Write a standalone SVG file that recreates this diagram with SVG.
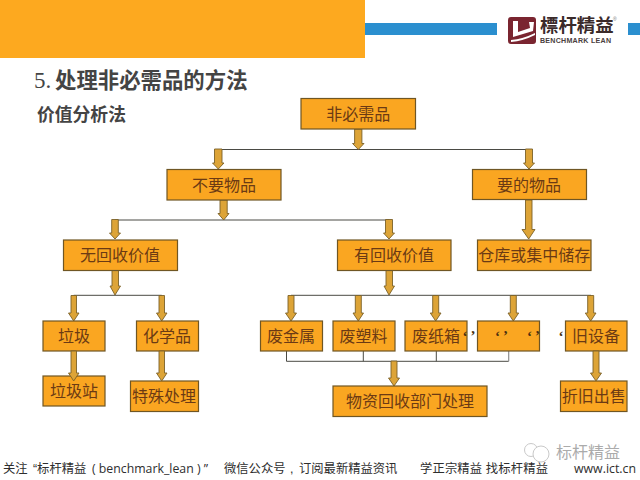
<svg xmlns="http://www.w3.org/2000/svg" width="640" height="480" viewBox="0 0 640 480">
<style>
text{font-family:"Liberation Sans","Noto Sans CJK SC",sans-serif}
.box{fill:#FAA621;stroke:#6F5624;stroke-width:1.2}
.lbl{font-size:16px;fill:#6B3A14;text-anchor:middle}
.q{font-family:"Liberation Serif",serif;font-size:15px;font-weight:700;fill:#4a3010;letter-spacing:3px}
.line{fill:none;stroke:#4a4a44;stroke-width:1}
.arrow{fill:#DDA437;stroke:#7A6128;stroke-width:.9}
.foot{font-size:12.3px;fill:#2e2e2e}
.latin{font-family:"Open Sans",sans-serif}
</style>
<rect id="banner" width="365" height="58" fill="#FDA91F"/>
<g id="bars" fill="#2B8FCF">
<rect x="365" y="23" width="132" height="12"/>
<rect x="628" y="23" width="12" height="12"/>
</g>
<g id="logo">
<rect x="508" y="17" width="28" height="27" rx="3" fill="#7A2530"/>
<path d="M513 21h5v11l12-4-1-6h5l-1 9-20 6z" fill="#fff"/>
<path d="M511 40q12-1 24-7v2q-12 6-24 7z" fill="#fff"/>
<text x="540" y="32" font-size="18.4" font-weight="700" fill="#3a2a2a" style="font-family:'Noto Sans CJK TC',sans-serif">標杆精益</text>
<text x="540" y="42.5" font-size="7.1" font-weight="700" fill="#4a4040" textLength="71">BENCHMARK LEAN</text>
<text x="613" y="21" font-size="5" fill="#777">®</text>
</g>
<text id="title" y="88" font-size="21.4" font-weight="700" fill="#444"><tspan x="34" style="font-family:'Liberation Serif',serif" font-size="23" font-weight="400">5.</tspan><tspan x="55">处理非必需品的方法</tspan></text>
<text id="subtitle" x="37" y="121" font-size="17.8" font-weight="700" fill="#444">价值分析法</text>

<g id="connectors">
<path class="line" d="M218 149.5H529M115 220H389M73.7 295.3H161.7M291 295.3H591M286.5 351V361.3H508.7M363.3 351V361.3M436.3 351V361.3"/>
<path d="M508.7 351V361.3" fill="none" stroke="#8c8c8c" stroke-width="1.2"/>
<g class="arrow">
<path d="M354.6 129V143.5H352.5L358.3 149.5 364 143.5H361.9V129Z"/>
<path d="M214.5 149V163H212.5L218.3 169 224 163H222V149Z"/>
<path d="M525.5 149V163H523.5L529 169 534.5 163H532.5V149Z"/>
<path d="M220 200V213.5H218L223.7 220 229 213.5H227.2V200Z"/>
<path d="M111.7 219.5V233H109.5L115 239 120.5 233H118.3V219.5Z"/>
<path d="M385.5 219.5V233H383.5L389 239 394.5 233H392.5V219.5Z"/>
<path d="M525.5 200V229.5H522L528.7 239 535 229.5H532V200Z"/>
<path d="M112 270.5V286H110L115 295 120.5 286H118.5V270.5Z"/>
<path d="M386 270.5V286H384L389 295 394.5 286H392.5V270.5Z"/>
<path d="M71 295.5V313H68.5L73.7 321 79 313H76.5V295.5Z"/>
<path d="M159 295.5V313H156.5L161.7 321 167 313H164.5V295.5Z"/>
<path d="M288 295.5V313H285.5L291 321 296.5 313H294V295.5Z"/>
<path d="M355.3 295.5V313H353L358.3 321 363.5 313H361.3V295.5Z"/>
<path d="M432.7 295.5V313H430.3L435.7 321 441 313H438.7V295.5Z"/>
<path d="M510.3 295.5V313H508L513.3 321 518.7 313H516.3V295.5Z"/>
<path d="M587.7 295.5V313H585.3L590.7 321 596 313H593.7V295.5Z"/>
<path d="M391 361V378H388.5L394 386 399.5 378H397V361Z"/>
</g>
</g>

<g id="n1"><rect class="box" x="301" y="98.5" width="114.5" height="30.5"/><text class="lbl" x="358.3" y="120">非必需品</text></g>
<g id="n2"><rect class="box" x="167" y="169.5" width="114" height="30.5"/><text class="lbl" x="224" y="191">不要物品</text></g>
<g id="n3"><rect class="box" x="472.5" y="169.5" width="114" height="30"/><text class="lbl" x="529" y="191">要的物品</text></g>
<g id="n4"><rect class="box" x="63.5" y="240" width="114" height="30.5"/><text class="lbl" x="120" y="261">无回收价值</text></g>
<g id="n5"><rect class="box" x="337.5" y="240" width="113.5" height="30.5"/><text class="lbl" x="394" y="261">有回收价值</text></g>
<g id="n6"><rect class="box" x="477.5" y="240" width="113.5" height="30.5"/><text class="lbl" x="534.3" y="261">仓库或集中储存</text></g>
<g id="n7"><rect class="box" x="43" y="321" width="62" height="30"/><text class="lbl" x="74" y="342">垃圾</text></g>
<g id="n8"><rect class="box" x="136.5" y="321" width="62" height="30"/><text class="lbl" x="167" y="342">化学品</text></g>
<g id="n9"><rect class="box" x="260.5" y="321" width="62" height="30"/><text class="lbl" x="291" y="342">废金属</text></g>
<g id="n10"><rect class="box" x="333" y="321" width="62" height="30"/><text class="lbl" x="363.5" y="342">废塑料</text></g>
<g id="n11"><rect class="box" x="405" y="321" width="62" height="30"/><text class="lbl" x="436" y="342">废纸箱</text></g>
<g id="n12"><rect class="box" x="477.5" y="321" width="62" height="30"/></g>
<g id="n13"><rect class="box" x="565.5" y="321" width="61.5" height="30"/><text class="lbl" x="596" y="342">旧设备</text></g>
<text class="q" x="462.5" y="341">‘’</text>
<text class="q" x="495" y="341">‘’</text>
<text class="q" x="527" y="341">‘’</text>
<text class="q" x="558.5" y="341">‘</text>
<g id="n14"><rect class="box" x="43" y="376" width="62" height="30"/><text class="lbl" x="74" y="397">垃圾站</text></g>
<g id="n15"><rect class="box" x="130.5" y="381" width="68" height="30.5"/><text class="lbl" x="164" y="402">特殊处理</text></g>
<g id="n16"><rect class="box" x="333" y="386" width="154" height="30.5"/><text class="lbl" x="410" y="407">物资回收部门处理</text></g>
<g id="n17"><rect class="box" x="560.5" y="381" width="66.5" height="30.5"/><text class="lbl" x="593.7" y="402">折旧出售</text></g>
<g class="arrow" id="connectors-lower">
<path d="M71 351V373H68.5L73.7 381 79 373H76.5V351Z"/>
<path d="M159 351V373H156.5L161.7 381 167 373H164.5V351Z"/>
<path d="M593 351V373H590.5L596 381 601.5 373H599V351Z"/>
</g>

<g id="watermark">
<g fill="#fff" stroke="#c9c9c9" stroke-width="1">
<circle cx="531" cy="450" r="6.5"/>
<circle cx="541" cy="454" r="8"/>
</g>
<text x="556" y="457.5" font-size="16" fill="#ababab">标杆精益</text>
</g>
<g id="footer">
<text class="foot" y="473"><tspan x="3">关注</tspan><tspan x="33">“标杆精益</tspan><tspan x="92" class="latin">( benchmark_lean ) ”</tspan><tspan x="224">微信公众号</tspan><tspan x="290">,</tspan><tspan x="299">订阅最新精益资讯</tspan></text>
<text class="foot" x="420" y="473" textLength="128">学正宗精益 找标杆精益</text>
<text class="foot latin" x="574" y="473" textLength="62" lengthAdjust="spacingAndGlyphs" style="font-size:13px">www.ict.cn</text>
</g>
</svg>
